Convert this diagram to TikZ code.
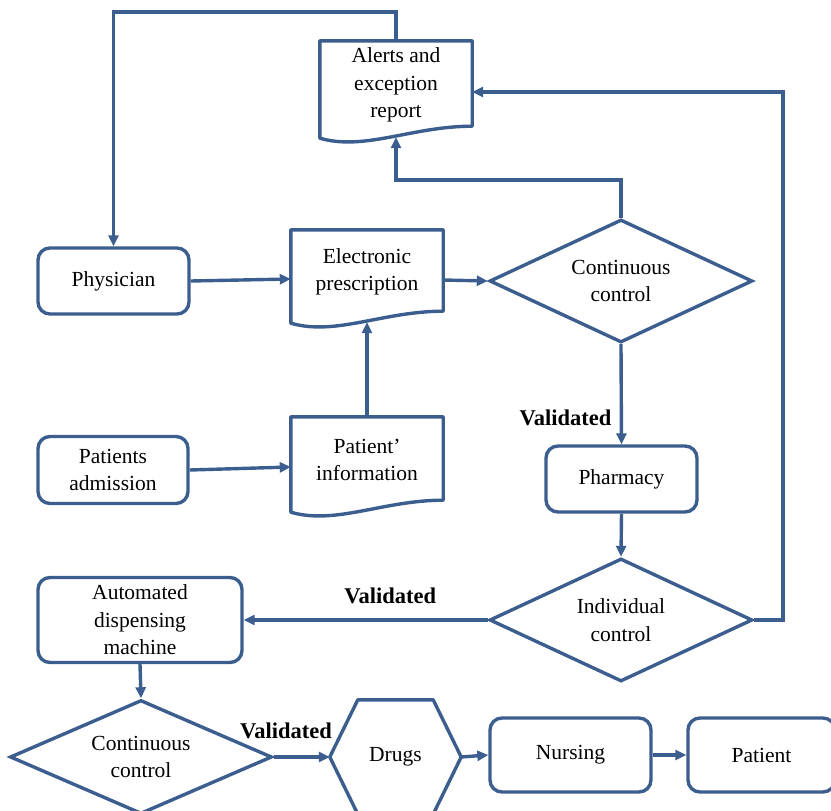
\documentclass[tikz,border=0pt]{standalone}
\usepackage{fontspec}
\setmainfont{Liberation Serif}
\usetikzlibrary{arrows.meta, shapes.geometric}
\definecolor{flowblue}{RGB}{59,94,143}

\begin{document}
\begin{tikzpicture}[x=1pt, y=-1pt,
    every node/.style={font=\fontsize{21.5}{27.5}\selectfont, align=center},
    box/.style={draw=flowblue, line width=3.4pt, rounded corners=12pt, minimum height=66pt},
    doc/.style={minimum width=152pt, inner sep=0pt},
    decision/.style={diamond, draw=flowblue, line width=3.4pt, aspect=2.1, inner sep=0pt,
        minimum width=263pt, minimum height=123pt},
    outline/.style={draw=flowblue, line width=3.4pt, line join=round},
    flow/.style={draw=flowblue, line width=3.4pt, -{Triangle[length=11pt,width=10pt]}},
    lbl/.style={font=\fontsize{22.5}{27}\selectfont\bfseries}]
            % Same Bounding Box
            \useasboundingbox (0,0) rectangle (831,811);

            % Nodes
            \node[doc, minimum height=88pt] (alerts) at (396,85) {Alerts and\\exception\\report};
            \node[box, minimum width=151pt] (physician) at (113.5,281) {Physician};
            \node[doc, minimum height=84pt] (prescr) at (367,272) {Electronic\\prescription};
            \node[decision] (ccont) at (621,281) {Continuous\\control};
            \node[box, minimum width=150pt, minimum height=67pt] (admission) at (113,470) {Patients\\admission};
            \node[doc, minimum height=86pt] (info) at (367,460) {Patient’\\information};
            \node[box, minimum width=151pt] (pharmacy) at (621.5,479) {Pharmacy};
            \node[decision] (icont) at (621,620) {Individual\\control};
            \node[box, minimum width=204pt, minimum height=85pt] (adm) at (140,620) {Automated\\dispensing\\machine};
            \node[decision, minimum width=262pt, minimum height=114pt] (ccont2) at (141,757) {Continuous\\control};
            \node[minimum width=131pt, minimum height=114pt, inner sep=0pt] (drugs) at (395.5,757) {Drugs};
            \node[box, minimum width=161pt, minimum height=74pt] (nursing) at (570.5,755) {Nursing};
            \node[box, minimum width=147pt, minimum height=74pt] (patient) at (761.5,755) {Patient};

            % Document outlines with wavy bottom
            \foreach \d in {alerts, prescr, info}
                \draw[outline] (\d.north west) -- (\d.north east) -- ([yshift=3pt]\d.south east)
                    .. controls ([xshift=-60pt,yshift=3pt]\d.south east) and ([xshift=45pt,yshift=-22pt]\d.south west)
                    .. ([yshift=-9pt]\d.south west) -- cycle;

            % Hexagon for drugs
            \draw[outline] (drugs.west) -- ([xshift=28pt]drugs.north west) -- ([xshift=-28pt]drugs.north east)
                -- (drugs.east) -- ([xshift=-28pt]drugs.south east) -- ([xshift=28pt]drugs.south west) -- cycle;

            % Connectors
            \coordinate (rturn) at (783,620);
            \draw[flow] (alerts.north) -- (alerts.north |- 0,12) -| (physician.north);
            \draw[flow] (icont.east) -- (rturn) |- ([yshift=-7pt]alerts.east);
            \draw[flow] (ccont.north) -- (ccont.north |- 0,180) -| ([yshift=-8pt]alerts.south);
            \draw[flow] (physician.east) -- ([yshift=-7pt]prescr.west);
            \draw[flow] ([yshift=-8pt]prescr.east) -- (ccont.west);
            \draw[flow] (admission.east) -- ([yshift=-7pt]info.west);
            \draw[flow] (info.north) -- ([yshift=-8pt]prescr.south);
            \draw[flow] (ccont.south) -- (pharmacy.north) node[lbl, pos=0.74, left=5pt] {Validated};
            \draw[flow] (pharmacy.south) -- (icont.north);
            \draw[flow] (icont.west) -- (adm.east) node[lbl, pos=0.4, above=11pt] {Validated};
            \draw[flow] (adm.south) -- (ccont2.north);
            \draw[flow] (ccont2.east) -- (drugs.west) node[lbl, pos=0.22, above=13pt] {Validated};
            \draw[flow] (drugs.east) -- (nursing.west);
            \draw[flow] (nursing.east) -- (patient.west);
\end{tikzpicture}
\end{document}
